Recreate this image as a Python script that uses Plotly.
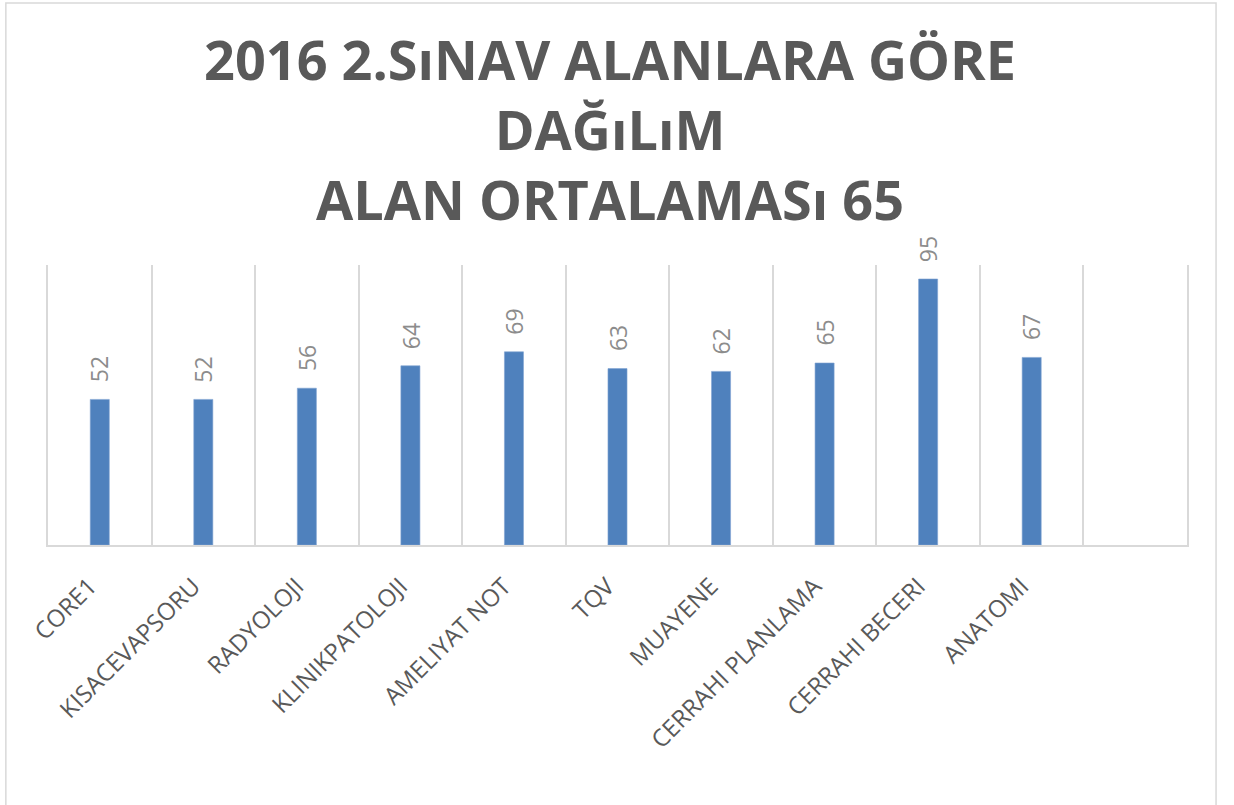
import plotly.graph_objects as go

# exam areas and their averages
categories = ["CORE1", "KISACEVAPSORU", "RADYOLOJI", "KLINIKPATOLOJI", "AMELIYAT NOT",
              "TQV", "MUAYENE", "CERRAHI PLANLAMA", "CERRAHI BECERI", "ANATOMI"]
scores = [52, 52, 56, 64, 69, 63, 62, 65, 95, 67]

TITLE = "2016 2.SıNAV ALANLARA GÖRE<br>DAĞıLıM<br>ALAN ORTALAMASı 65"
GRID = "#D9D9D9"
TEXT_GREY = "#595959"

fig = go.Figure(
    go.Bar(
        x=categories,
        y=scores,
        marker=dict(color="#4F81BD", line=dict(color="#7FA2D1", width=0.6)),
        hoverinfo="x+y",
    )
)

# rotated value labels above bars
for cat, val in zip(categories, scores):
    fig.add_annotation(
        x=cat, y=val, text=str(val), textangle=-90,
        showarrow=False, yanchor="bottom", yshift=15,
        font=dict(family="Open Sans", size=23, color="#8C8C8C"),
    )

# chart border
fig.add_shape(type="rect", xref="paper", yref="paper",
              x0=-0.037, x1=1.0255, y0=-1.0, y1=1.936,
              line=dict(color=GRID, width=1.5), fillcolor="rgba(0,0,0,0)", layer="below")

fig.update_layout(
    width=1234, height=805,
    margin=dict(l=48, r=47, t=265, b=260),
    plot_bgcolor="white", paper_bgcolor="white",
    bargap=0.816,
    showlegend=False,
    title=dict(
        text=TITLE, x=610 / 1234, xanchor="center", xref="container",
        yref="container", y=1 - 80 / 805, yanchor="middle",
        font=dict(family="Open Sans", size=54, color=TEXT_GREY, weight="bold"),
    ),
    xaxis=dict(
        range=[-0.5, 10.5],
        tickson="boundaries",
        showgrid=True, gridcolor=GRID, gridwidth=1.5,
        showline=True, linecolor=GRID, linewidth=1.5,
        ticks="", tickangle=-45,
        ticklabelstandoff=16, ticklabelshift=-10,
        tickfont=dict(family="Open Sans", size=24, color=TEXT_GREY),
        fixedrange=True,
    ),
    yaxis=dict(
        range=[0, 100],
        showgrid=False, zeroline=False,
        showticklabels=False,
        showline=True, mirror=True, linecolor=GRID, linewidth=1.5,
    ),
)

# drop the default body margin so the figure sits at the page corner
fig.write_html("out.html", config={"displayModeBar": False},
               post_script="document.body.style.margin='0';")
